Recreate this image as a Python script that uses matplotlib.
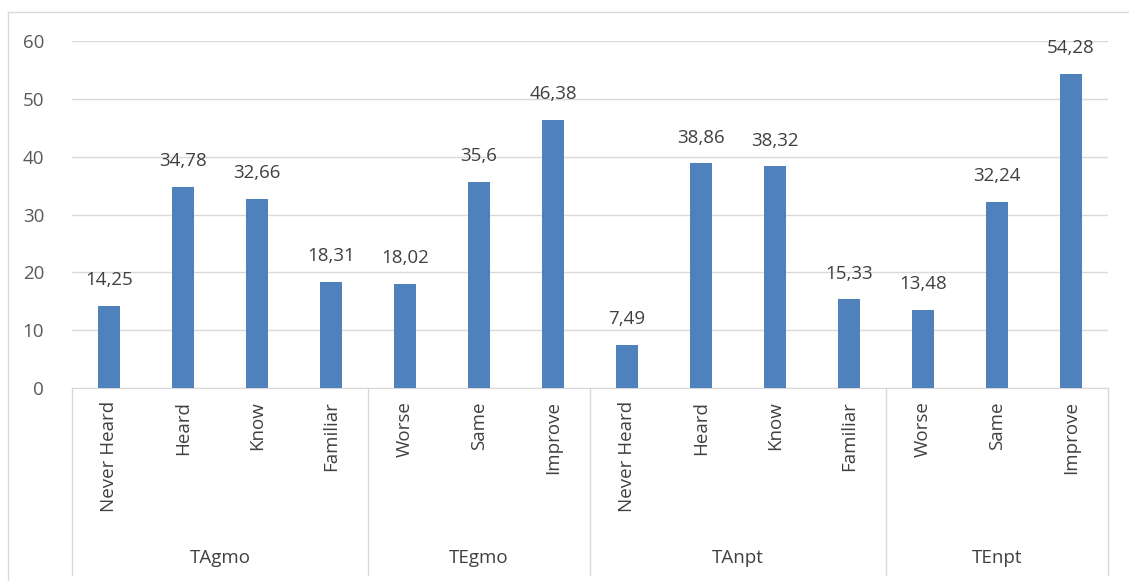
import matplotlib
matplotlib.use("Agg")
import matplotlib.pyplot as plt
from matplotlib.lines import Line2D

groups = ["TAgmo", "TEgmo", "TAnpt", "TEnpt"]
categories = [
    ["Never Heard", "Heard", "Know", "Familiar"],
    ["Worse", "Same", "Improve"],
    ["Never Heard", "Heard", "Know", "Familiar"],
    ["Worse", "Same", "Improve"],
]
values = [
    [14.25, 34.78, 32.66, 18.31],
    [18.02, 35.6, 46.38],
    [7.49, 38.86, 38.32, 15.33],
    [13.48, 32.24, 54.28],
]
labels = [
    ["14,25", "34,78", "32,66", "18,31"],
    ["18,02", "35,6", "46,38"],
    ["7,49", "38,86", "38,32", "15,33"],
    ["13,48", "32,24", "54,28"],
]
yticks = [0, 10, 20, 30, 40, 50, 60]

W, H = 1129, 581
fig = plt.figure(figsize=(W / 100, H / 100), dpi=100)
plt.rcParams['font.family'] = ['Open Sans', 'DejaVu Sans']
FS = 13.5
TXT = "#404040"

x0, x1 = 72, 1108
y0, y1 = 388, 41
ax = fig.add_axes([x0 / W, (H - y0) / H, (x1 - x0) / W, (y0 - y1) / H])

flat_vals = [v for g in values for v in g]
flat_lab = [l for g in labels for l in g]
flat_cat = [c for g in categories for c in g]
n = len(flat_vals)
xs = list(range(n))
ax.bar(xs, flat_vals, width=0.31, color="#4f81bd", zorder=3)
for x, v, l in zip(xs, flat_vals, flat_lab):
    ax.annotate(l, (x, v), xytext=(0, 12), textcoords="offset points",
                ha="center", va="bottom", fontsize=FS, color=TXT)

ax.set_xlim(-0.5, n - 0.5)
ax.set_ylim(0, 60)
ax.set_yticks(yticks)
ax.set_yticklabels([str(t) for t in yticks], fontsize=FS, color="#595959")
ax.tick_params(axis="y", length=0, pad=20)
ax.set_xticks([])
ax.grid(axis="y", color="#d9d9d9", linewidth=1, zorder=0)
for s in ["top", "right", "left"]:
    ax.spines[s].set_visible(False)
ax.spines["bottom"].set_color("#d9d9d9")

# category axis
trans = ax.get_xaxis_transform()
scale = (388 - 41)
bottom_y = -(575 - 388) / scale
boundaries = [-0.5]
pos = -0.5
for g in values:
    pos += len(g)
    boundaries.append(pos)
for b in boundaries:
    ax.add_line(Line2D([b, b], [0, bottom_y], transform=trans, color="#d9d9d9",
                       linewidth=1, clip_on=False))
for x, c in zip(xs, flat_cat):
    ax.text(x, -(401 - 388) / scale, c, transform=trans, rotation=90,
            ha="center", va="top", fontsize=FS, color=TXT)
for i, g in enumerate(groups):
    cx = (boundaries[i] + boundaries[i + 1]) / 2
    ax.text(cx, -(558 - 388) / scale, g, transform=trans, ha="center",
            va="center", fontsize=FS, color=TXT)

# outer border
fig.add_artist(Line2D([8 / W, 8 / W], [0, 1 - 12 / H], transform=fig.transFigure,
                      color="#d9d9d9", linewidth=1))
fig.add_artist(Line2D([8 / W, 1], [1 - 12 / H, 1 - 12 / H], transform=fig.transFigure,
                      color="#d9d9d9", linewidth=1))

fig.savefig("out.png", dpi=100, facecolor="white")
